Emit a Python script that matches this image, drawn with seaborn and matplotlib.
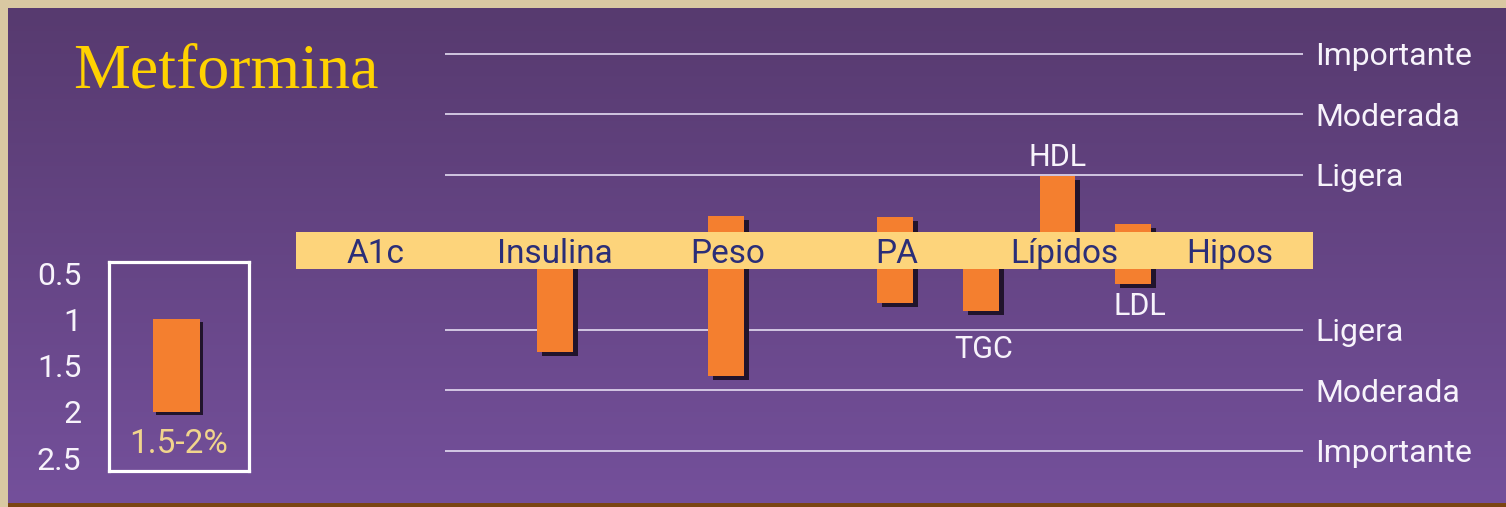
import numpy as np
import pandas as pd
import matplotlib
matplotlib.use("Agg")
import matplotlib.pyplot as plt
import matplotlib.transforms as mtransforms
from matplotlib.patches import Rectangle
import seaborn as sns

# ---------------- data ----------------
categories = ["A1c", "Insulina", "Peso", "PA", "Lípidos", "Hipos"]
category_pos = [0.0, 1.05, 2.06, 3.05, 4.03, 5.0]

effects = ["Insulina", "Peso", "PA", "TGC", "HDL", "LDL"]
effect_pos = [1.05, 2.05, 3.04, 3.54, 3.99, 4.43]
effect_top = [0.0, 0.57, 0.55, 0.0, 1.23, 0.44]        # level units above the band centre
effect_bottom = [-1.68, -2.07, -0.87, -1.00, 0.0, -0.55]

level_names = ["Ligera", "Moderada", "Importante"]
level_steps = [1, 2, 3]

a1c_ticks = [0.5, 1, 1.5, 2, 2.5]
a1c_tick_labels = ["0.5", "1", "1.5", "2", "2.5"]
a1c_range = [1.0, 2.0]
a1c_label = "1.5-2%"

# ---------------- style ----------------
W, H, DPI = 1506, 507, 100
ORANGE = "#f47f2f"
SHADOW = "#21142c"
BAND = "#fdd47b"
NAVY = "#2b2e78"
LINE = "#e4dcf2"
TEXT = "#f7f3fb"
TOP_C = np.array([0x57, 0x3a, 0x6f]) / 255
BOT_C = np.array([0x74, 0x50, 0x9b]) / 255

sns.set_theme(style="white")
plt.rcParams["font.family"] = ["Roboto", "DejaVu Sans"]

fig = plt.figure(figsize=(W / DPI, H / DPI), dpi=DPI, facecolor="#d9c8a2")


def fx(px):
    return px / W


def fy(py):
    return 1 - py / H


# main panel: x in category steps, y in level steps (0 = band centre)
X0, DXPX = 376, 170.8
Y0, DYPX = 250.5, 60.5
xlim = ((8 - X0) / DXPX, (W - X0) / DXPX)
ylim = ((Y0 - 503) / DYPX, (Y0 - 8) / DYPX)

ax = fig.add_axes([fx(8), 4 / H, (W - 8) / W, (503 - 8) / H])

# purple gradient background
t = np.linspace(0, 1, 256)[:, None, None]
grad = TOP_C[None, None, :] * (1 - t) + BOT_C[None, None, :] * t
ax.imshow(grad, extent=(xlim[0], xlim[1], ylim[0], ylim[1]), origin="upper",
          aspect="auto", zorder=0, interpolation="bilinear")

# level lines and labels
UP_OFF, DOWN_OFF = 0.25, 0.31
line_x0, line_x1 = 0.404, 5.427
label_x = 5.498
for name, step in zip(level_names, level_steps):
    for yv in (step + UP_OFF, -(step + DOWN_OFF)):
        ax.hlines(yv, line_x0, line_x1, color=LINE, lw=1.2, zorder=1)
        ax.text(label_x, yv - 0.19, name, ha="left", va="baseline",
                fontsize=23, color=TEXT, zorder=6)

# effect bars
df = pd.DataFrame({"effect": effects, "pos": effect_pos,
                   "top": effect_top, "bottom": effect_bottom})
df["span"] = df["top"] - df["bottom"]
sns.barplot(data=df, x="pos", y="span", native_scale=True, color=ORANGE,
            saturation=1, errorbar=None, linewidth=0, ax=ax, zorder=3)
bar_w = 0.21
shadow_tr = ax.transData + mtransforms.ScaledTranslation(5 / DPI, -4 / DPI, fig.dpi_scale_trans)
for bar, (_, r) in zip(ax.containers[0], df.iterrows()):
    bar.set_x(r.pos - bar_w / 2)
    bar.set_width(bar_w)
    bar.set_y(r.bottom)
    bar.set_height(r.span)
    ax.add_patch(Rectangle((r.pos - bar_w / 2, r.bottom), bar_w, r.span,
                           facecolor=SHADOW, lw=0, transform=shadow_tr, zorder=2.5))

# sub-labels for the lipid bars
sub_labels = {"TGC": -1.78, "HDL": 1.40, "LDL": -1.07}
for name, yb in sub_labels.items():
    xp = df.loc[df.effect == name, "pos"].iloc[0]
    dx = {"TGC": 0.02, "HDL": 0.0, "LDL": 0.04}[name]
    ax.text(xp + dx, yb, name, ha="center", va="baseline", fontsize=22,
            color=TEXT, zorder=6)

# category band
band_x0, band_x1, band_h = -0.468, 5.486, 0.306
ax.add_patch(Rectangle((band_x0, -band_h), band_x1 - band_x0, 2 * band_h,
                       facecolor=BAND, lw=0, zorder=4))
for name, xp in zip(categories, category_pos):
    ax.text(xp, -0.207, name, ha="center", va="baseline", fontsize=24,
            color=NAVY, zorder=5)

ax.set_xlim(*xlim)
ax.set_ylim(*ylim)
ax.set_axis_off()

# title
fig.text(fx(73), fy(88), "Metformina", family=["Liberation Serif", "DejaVu Serif"],
         fontsize=46, color="#ffd200", ha="left", va="baseline")

# A1c inset scale
ia = fig.add_axes([fx(109), fy(471), 140 / W, 209 / H])
ia.set_facecolor("none")
sns.barplot(x=[0], y=[a1c_range[1] - a1c_range[0]], color=ORANGE, saturation=1,
            errorbar=None, linewidth=0, ax=ia, zorder=3)
iw = 0.336
ishadow = ia.transData + mtransforms.ScaledTranslation(3 / DPI, -3 / DPI, fig.dpi_scale_trans)
for bar in ia.containers[0]:
    bar.set_x(-iw / 2)
    bar.set_width(iw)
    bar.set_y(a1c_range[0])
    bar.set_height(a1c_range[1] - a1c_range[0])
    ia.add_patch(Rectangle((-iw / 2, a1c_range[0]), iw, a1c_range[1] - a1c_range[0],
                           facecolor=SHADOW, lw=0, transform=ishadow, zorder=2.5))
ia.set_xlim(-0.48, 0.52)
ia.set_ylim(2.64, 0.381)
ia.set_yticks(a1c_ticks, a1c_tick_labels)
ia.set_xticks([])
ia.set_xlabel("")
ia.set_ylabel("")
ia.tick_params(axis="y", length=0, pad=20, labelsize=23, labelcolor=TEXT)
for sp in ia.spines.values():
    sp.set_visible(True)
    sp.set_color("white")
    sp.set_linewidth(2.3)
ia.text(0.02, 2.446, a1c_label, ha="center", va="baseline", fontsize=24,
        color="#f1d58c", zorder=5)

# bottom trim
fig.patches.append(Rectangle((fx(8), 0), 1 - fx(8), 4 / H, transform=fig.transFigure,
                             facecolor="#7a4512", lw=0))

fig.savefig("out.png", dpi=DPI, facecolor=fig.get_facecolor())
